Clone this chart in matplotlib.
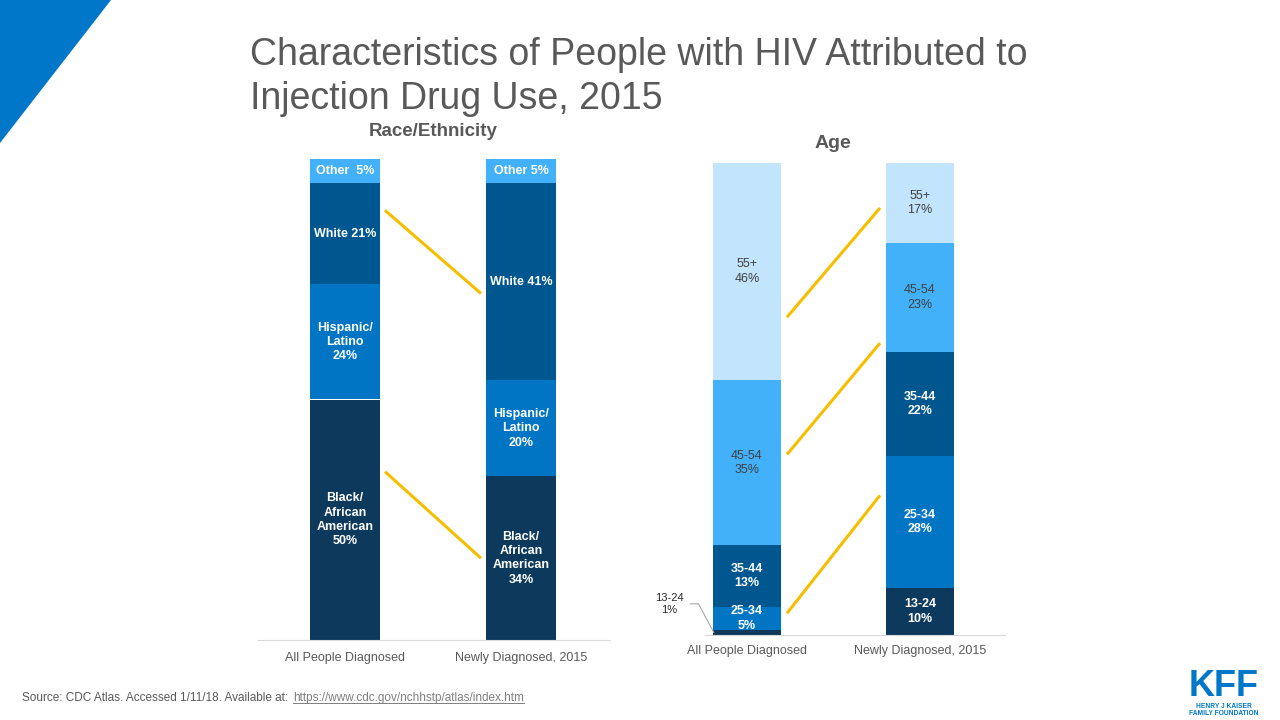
import matplotlib.pyplot as plt
from matplotlib.lines import Line2D
from matplotlib.patches import Polygon
import numpy as np

plt.rcParams['font.family'] = ['Liberation Sans', 'DejaVu Sans']

groups = ['All People Diagnosed', 'Newly Diagnosed, 2015']

race_labels = ['Black/\nAfrican\nAmerican', 'Hispanic/\nLatino', 'White', 'Other']
race_all = [50, 24, 21, 5]
race_new = [34, 20, 41, 5]

age_labels = ['13-24', '25-34', '35-44', '45-54', '55+']
age_all = [1, 5, 13, 35, 46]
age_new = [10, 28, 22, 23, 17]

race_colors = ['#0d3a5c', '#0075c4', '#00568f', '#43b1fa']
age_colors = ['#0d3a5c', '#0075c4', '#00568f', '#43b1fa', '#c2e4fd']
age_text = ['white', 'white', 'white', '#3f3f3f', '#3f3f3f']

W, H = 1280, 720
fig = plt.figure(figsize=(12.8, 7.2), dpi=100)

def px_axes(x0, x1, ybot, ytop):
    return fig.add_axes([x0 / W, 1 - ybot / H, (x1 - x0) / W, (ybot - ytop) / H])

gray = '#595959'
yellow = '#f5bf00'

# corner triangle
fig.add_artist(Polygon([[0, 1], [111 / W, 1], [0, 1 - 143 / H]], closed=True,
                       transform=fig.transFigure, color='#0077c8', lw=0))

fig.text(250 / W, 1 - 37 / H, 'Characteristics of People with HIV Attributed to\nInjection Drug Use, 2015',
         ha='left', va='top', fontsize=27, color=gray, linespacing=1.3)

# ---------- race panel ----------
ax1 = px_axes(258, 610, 640, 159)
bw = 70 / 176
x = np.arange(2)
for vals, xi in [(race_all, 0), (race_new, 1)]:
    bottom = 0
    for i, v in enumerate(vals):
        ax1.bar(xi, v, bw, bottom=bottom, color=race_colors[i], lw=0)
        if race_labels[i] in ('White', 'Other'):
            sep = '  ' if (race_labels[i] == 'Other' and xi == 0) else ' '
            txt = race_labels[i] + sep + '%d%%' % v
        else:
            txt = race_labels[i] + '\n%d%%' % v
        ax1.text(xi, bottom + v / 2, txt, ha='center', va='center', color='white',
                 fontsize=9, fontweight='bold', linespacing=1.25)
        bottom += v
ax1.set_xlim((258 - 345) / 176, (610 - 345) / 176)
ax1.set_ylim(0, 100)

# connectors: (segment index, fraction in left segment, fraction in right segment)
race_links = [(2, 0.73, 0.44), (0, 0.70, 0.50)]
for seg, fl, fr in race_links:
    yl = sum(race_all[:seg]) + fl * race_all[seg]
    yr = sum(race_new[:seg]) + fr * race_new[seg]
    ax1.plot([bw / 2 + 5 / 176, 1 - bw / 2 - 5 / 176], [yl, yr], color=yellow, lw=2.2,
             solid_capstyle='butt')

ax1.set_xticks(x, groups)
ax1.tick_params(length=0, labelsize=9, labelcolor=gray, pad=9)
ax1.set_yticks([])
for s in ['top', 'left', 'right']:
    ax1.spines[s].set_visible(False)
ax1.spines['bottom'].set_color('#d9d9d9')
fig.text(433 / W, 1 - 132 / H, 'Race/Ethnicity', ha='center', va='center',
         fontsize=13.5, fontweight='bold', color=gray)

# ---------- age panel ----------
ax2 = px_axes(705, 1005, 635, 163)
bw2 = 68 / 173
for vals, xi in [(age_all, 0), (age_new, 1)]:
    bottom = 0
    for i, v in enumerate(vals):
        ax2.bar(xi, v, bw2, bottom=bottom, color=age_colors[i], lw=0)
        if v >= 3:
            ax2.text(xi, bottom + v / 2, '%s\n%d%%' % (age_labels[i], v), ha='center',
                     va='center', color=age_text[i], fontsize=9,
                     fontweight='bold' if age_text[i] == 'white' else 'normal',
                     linespacing=1.25)
        bottom += v
ax2.set_xlim((705 - 747) / 173, (1005 - 747) / 173)
ax2.set_ylim(0, 100)

ax2.annotate('%s\n%d%%' % (age_labels[0], age_all[0]), xy=(-bw2 / 2 + 0.005, age_all[0] / 2),
             xytext=(-bw2 / 2 - 44 / 173, 6.6), ha='center', va='center', fontsize=8,
             color='#262626', annotation_clip=False,
             arrowprops=dict(arrowstyle='-', color='#a6a6a6', lw=0.8,
                             connectionstyle='angle,angleA=0,angleB=118,rad=0',
                             shrinkA=3, shrinkB=0))

age_links = [(4, 0.29, 0.44), (3, 0.55, 0.08), (1, 0.72, 0.70)]
for seg, fl, fr in age_links:
    yl = sum(age_all[:seg]) + fl * age_all[seg]
    yr = sum(age_new[:seg]) + fr * age_new[seg]
    ax2.plot([bw2 / 2 + 6 / 173, 1 - bw2 / 2 - 6 / 173], [yl, yr], color=yellow, lw=2.2,
             solid_capstyle='butt')

ax2.set_xticks(x, groups)
ax2.tick_params(length=0, labelsize=9, labelcolor=gray, pad=7)
ax2.set_yticks([])
for s in ['top', 'left', 'right']:
    ax2.spines[s].set_visible(False)
ax2.spines['bottom'].set_color('#d9d9d9')
fig.text(833 / W, 1 - 143 / H, 'Age', ha='center', va='center',
         fontsize=14, fontweight='bold', color=gray)

# ---------- source ----------
src = fig.text(22 / W, 1 - 698 / H, 'Source: CDC Atlas. Accessed 1/11/18. Available at:',
               ha='left', va='center', fontsize=8.5, color=gray)
fig.canvas.draw()
bb = src.get_window_extent()
url = fig.text((bb.x1 + 5) / W, 1 - 698 / H, 'https://www.cdc.gov/nchhstp/atlas/index.htm',
               ha='left', va='center', fontsize=8.5, color='#7f7f7f')
fig.canvas.draw()
ub = url.get_window_extent()
fig.add_artist(Line2D([ub.x0 / W, ub.x1 / W], [(ub.y0 + 1) / H, (ub.y0 + 1) / H],
                      transform=fig.transFigure, color='#7f7f7f', lw=0.7))

# ---------- logo ----------
fig.text(1224 / W, 1 - 696 / H, 'KFF', ha='center', va='baseline', fontsize=26,
         fontweight='bold', color='#0077c8')
fig.text(1224 / W, 1 - 710 / H, 'HENRY J KAISER\nFAMILY FOUNDATION', ha='center',
         va='center', fontsize=4.8, fontweight='bold', color='#0077c8', linespacing=0.95)

fig.savefig('out.png', dpi=100)
